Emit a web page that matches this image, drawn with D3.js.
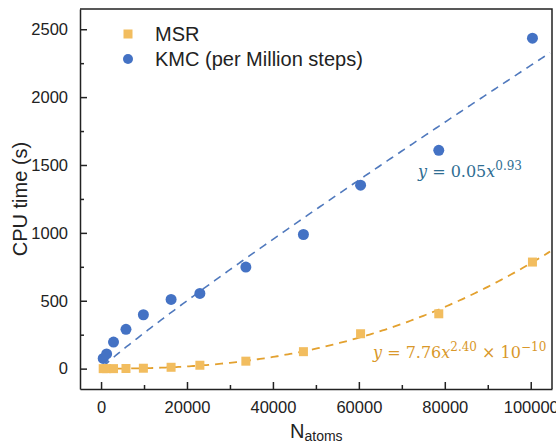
<!DOCTYPE html>
<html>
<head>
    <script src="https://cdnjs.cloudflare.com/ajax/libs/d3/7.8.5/d3.min.js"></script>
    <style>
        body { margin: 0; background: #fff; }
        .axis text { font-family: 'Liberation Sans', Arial, sans-serif; font-size: 16.5px; fill: #222; }
        .axis path, .axis line { stroke: #222; stroke-width: 1.5; }
        .lbl { font-family: 'Liberation Sans', Arial, sans-serif; fill: #222; }
        .eq { font-family: 'DejaVu Serif', 'Liberation Serif', serif; font-size: 16px; }
    </style>
</head>
<body>
    <div id="root"></div>
    <script>
        // atoms count (shared by both series)
        let natoms = [500, 1300, 2900, 5800, 9850, 16300, 23000, 33700, 47100, 60400, 78600, 100400]
        let msr = [0, 0, 0, 1, 3, 10, 25, 55, 125, 257, 404, 785]
        let kmc = [75, 108, 196, 290, 397, 510, 554, 748, 988, 1351, 1608, 2434]
        let xticks = [0, 20000, 40000, 60000, 80000, 100000]
        let yticks = [0, 500, 1000, 1500, 2000, 2500]
        // fit params from the annotation
        let kmcFit = { a: 0.05, b: 0.93 }
        let msrFit = { a: 7.76e-10, b: 2.40 }

        const w = 556, h = 446
        const m = { left: 80, right: 4, top: 9, bottom: 57 }

        const svg = d3.select("#root").append("svg").attr("width", w).attr("height", h)

        const x = d3.scaleLinear().domain([-4900, 104950]).range([m.left, w - m.right])
        const y = d3.scaleLinear().domain([-150, 2649]).range([h - m.bottom, m.top])

        // minor ticks
        let xminor = d3.range(10000, 100001, 20000)
        let yminor = d3.range(250, 2500, 500)

        svg.append("g").attr("class", "axis")
            .attr("transform", `translate(0,${h - m.bottom})`)
            .call(d3.axisBottom(x).tickValues(xticks).tickFormat(d3.format("d")).tickSizeInner(-7).tickSizeOuter(0).tickPadding(12))
        svg.append("g").attr("class", "axis")
            .attr("transform", `translate(0,${h - m.bottom})`)
            .call(d3.axisBottom(x).tickValues(xminor).tickFormat("").tickSizeInner(-4).tickSizeOuter(0))
            .select("path").remove()
        svg.append("g").attr("class", "axis")
            .attr("transform", `translate(${m.left},0)`)
            .call(d3.axisLeft(y).tickValues(yticks).tickFormat(d3.format("d")).tickSizeInner(-7).tickSizeOuter(0).tickPadding(12))
        svg.append("g").attr("class", "axis")
            .attr("transform", `translate(${m.left},0)`)
            .call(d3.axisLeft(y).tickValues(yminor).tickFormat("").tickSizeInner(-4).tickSizeOuter(0))
            .select("path").remove()

        // frame top/right
        svg.append("path")
            .attr("d", `M${m.left},${m.top}H${w - m.right}V${h - m.bottom}`)
            .attr("fill", "none").attr("stroke", "#222").attr("stroke-width", 1.5)

        // fit curves
        const line = d3.line().x(d => x(d[0])).y(d => y(d[1]))
        let xs = d3.range(natoms[0], 105000, 500)
        svg.append("path")
            .datum(xs.map(v => [v, kmcFit.a * Math.pow(v, kmcFit.b)]))
            .attr("d", line).attr("fill", "none")
            .attr("stroke", "#5079BD").attr("stroke-width", 1.6).attr("stroke-dasharray", "8,6")
        svg.append("path")
            .datum(xs.map(v => [v, msrFit.a * Math.pow(v, msrFit.b)]))
            .attr("d", line).attr("fill", "none")
            .attr("stroke", "#E3A12F").attr("stroke-width", 1.8).attr("stroke-dasharray", "8,6")

        // markers
        svg.append("g").selectAll("rect")
            .data(natoms.map((n, i) => [n, msr[i]]))
            .enter().append("rect")
            .attr("x", d => x(d[0]) - 4.5).attr("y", d => y(d[1]) - 4.5)
            .attr("width", 9).attr("height", 9)
            .attr("fill", "#F2BD5F")
        svg.append("g").selectAll("circle")
            .data(natoms.map((n, i) => [n, kmc[i]]))
            .enter().append("circle")
            .attr("cx", d => x(d[0])).attr("cy", d => y(d[1]))
            .attr("r", 5.5).attr("fill", "#4472C4")

        // legend
        svg.append("rect").attr("x", 123.5).attr("y", 29.5).attr("width", 9).attr("height", 9).attr("fill", "#F2BD5F")
        svg.append("circle").attr("cx", 128).attr("cy", 59).attr("r", 5).attr("fill", "#4472C4")
        svg.append("text").attr("class", "lbl").attr("x", 155).attr("y", 41).style("font-size", "20px").text("MSR")
        svg.append("text").attr("class", "lbl").attr("x", 155).attr("y", 66).style("font-size", "20px").text("KMC (per Million steps)")

        // equations
        let t1 = svg.append("text").attr("class", "eq").attr("x", 418).attr("y", 177).attr("fill", "#2F6E93")
        t1.append("tspan").style("font-style", "italic").text("y")
        t1.append("tspan").text(" = 0.05")
        t1.append("tspan").style("font-style", "italic").text("x")
        t1.append("tspan").attr("dy", -7).style("font-size", "12px").text("0.93")

        let t2 = svg.append("text").attr("class", "eq").attr("x", 373).attr("y", 358).attr("fill", "#D9982A")
        t2.append("tspan").style("font-style", "italic").text("y")
        t2.append("tspan").text(" = 7.76")
        t2.append("tspan").style("font-style", "italic").text("x")
        t2.append("tspan").attr("dy", -7).style("font-size", "12px").text("2.40")
        t2.append("tspan").attr("dy", 7).text(" × 10")
        t2.append("tspan").attr("dy", -7).style("font-size", "12px").text("−10")

        // axis titles
        svg.append("text").attr("class", "lbl")
            .attr("transform", `translate(27,199) rotate(-90)`)
            .attr("text-anchor", "middle").style("font-size", "20px").text("CPU time (s)")
        let xt = svg.append("text").attr("class", "lbl").attr("x", 290).attr("y", 438).style("font-size", "20px")
        xt.append("tspan").text("N")
        xt.append("tspan").attr("dy", 3).style("font-size", "14px").text("atoms")
    </script>
</body>
</html>
